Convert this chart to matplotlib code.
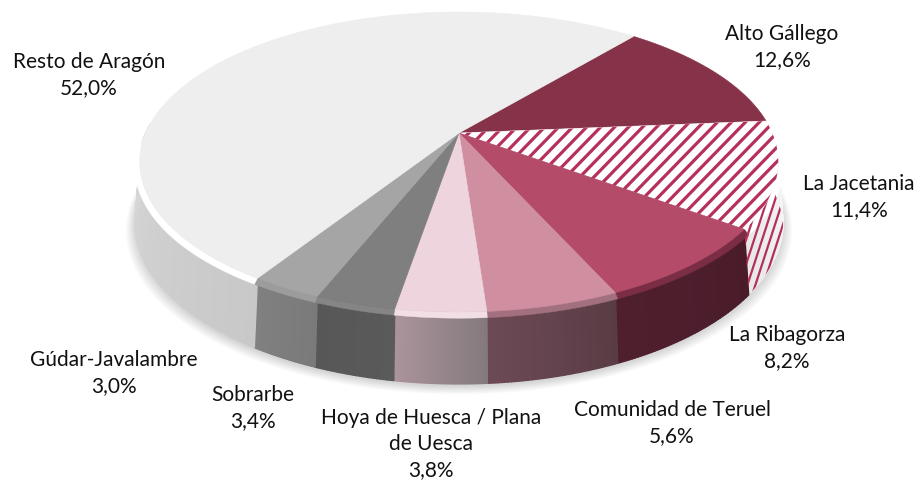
import matplotlib
matplotlib.use("Agg")
import matplotlib.pyplot as plt
import numpy as np
from matplotlib.colors import to_rgb
from matplotlib.patches import Polygon

plt.rcParams['font.family'] = ['Lato', 'DejaVu Sans']

# data, clockwise from the start angle
names = ["Alto Gállego", "La Jacetania", "La Ribagorza", "Comunidad de Teruel",
         "Hoya de Huesca / Plana\nde Uesca", "Sobrarbe", "Gúdar-Javalambre", "Resto de Aragón"]
values = [12.6, 11.4, 8.2, 5.6, 3.8, 3.4, 3.0, 52.0]

# styles
top_colors = ["#863249", "#ffffff", "#b34b69", "#cf8fa1", "#eed4dc", "#7f7f7f", "#a5a5a5", "#eeeeee"]
rim_colors = ["#863249", "#ffffff", "#7a2d45", "#a3707f", "#f2dfe5", "#858585", "#9c9c9c", "#ffffff"]
side_start = ["#4c1c2b", "#ffffff", "#4a1c2a", "#5a3c45", "#847a7e", "#5a5a5a", "#7a7a7a", "#c8c8c8"]
side_end = ["#4c1c2b", "#e8e8e8", "#4f1f2e", "#6c4a55", "#ab939b", "#575757", "#808080", "#d8d8d8"]
label_x = [782, 859, 787, 672, 431, 253, 114, 89]
label_y = [47, 197, 348, 423, 444, 408, 373, 75]

start_angle = 39.8
hatch_color = "#b5305a"

# projection of the tilted disc
cx, cy = 459, 133
ax_x, ax_y = 318, 144.4
persp = 0.1933
thick = 58
bevel = 5
top_grow = 0.985
taper = 15


def project(t, depth=0.0, grow=1.0):
    a = np.radians(t)
    u, v = np.sin(a), np.cos(a)
    w = 1 + persp * v
    x = cx + grow * ax_x * u / w
    y = cy - ax_y * v / w + depth / w
    return x, y


def ring(t0, t1, depth=0.0, grow=1.0, n=80):
    ts = np.linspace(t0, t1, n)
    x, y = project(ts, depth, grow)
    return np.column_stack([x, y])


vis0 = 90 + np.degrees(np.arcsin(persp))
vis1 = 360 - vis0


def outer_ring(t0, t1, depth=0.0, n=80):
    # outer edge of the side wall, runs into the top face at both ends
    ts = np.linspace(t0, t1, n)
    dist = np.minimum(ts - (vis0 - taper), (vis1 + taper) - ts) / taper
    g = top_grow + (1 - top_grow) * np.clip(dist, 0, 1)
    x, y = project(ts, depth, g)
    return np.column_stack([x, y])


fig = plt.figure(figsize=(9.19, 4.83), dpi=100)
ax = fig.add_axes([0, 0, 1, 1])
ax.set_xlim(0, 919)
ax.set_ylim(483, 0)
ax.axis("off")

edges = start_angle + np.cumsum([0] + values) * 3.6

# soft shadow under the disc
for i in range(14):
    pts = ring(0, 360, thick + 2 + i * 0.5, 1.0 + i * 0.0022, 200)
    ax.add_patch(Polygon(pts, closed=True, fc="black", ec="none", alpha=0.012, zorder=1))

# side faces, thin strips for the gradient
for i in range(len(values)):
    a, b = max(edges[i], vis0 - taper), min(edges[i + 1], vis1 + taper)
    if b <= a:
        continue
    c0, c1 = np.array(to_rgb(side_start[i])), np.array(to_rgb(side_end[i]))
    steps = max(int(b - a) * 2, 2)
    ts = np.linspace(a, b, steps + 1)
    for j in range(steps):
        f = j / max(steps - 1, 1)
        col = c0 + (c1 - c0) * f
        pts = np.vstack([ring(ts[j], ts[j + 1], 0, top_grow, 3), outer_ring(ts[j + 1], ts[j], thick, 3)])
        ax.add_patch(Polygon(pts, closed=True, fc=col, ec=col, lw=1.0, zorder=2))
    # rim highlight above the wall
    pts = np.vstack([ring(a, b, 0, top_grow), outer_ring(b, a, bevel)])
    ax.add_patch(Polygon(pts, closed=True, fc=rim_colors[i], ec=rim_colors[i], lw=0.3, zorder=4))
    if i == 1:
        outline = np.vstack([ring(a, b, 0, top_grow), outer_ring(b, a, thick)])
        clip = Polygon(outline, closed=True, fc="none", ec="none", zorder=2)
        ax.add_patch(clip)
        for x0 in np.arange(640, 860, 8):
            line, = ax.plot([x0, x0 + 65], [320, 120], color=hatch_color, lw=1.6, zorder=5)
            line.set_clip_path(clip)

for i in range(len(values)):
    pts = np.vstack([[cx, cy], ring(edges[i], edges[i + 1], 0, top_grow)])
    wedge = Polygon(pts, closed=True, fc=top_colors[i], ec=top_colors[i], lw=0.4, zorder=6)
    ax.add_patch(wedge)
    if i == 1:
        for x0 in np.arange(250, 900, 14):
            line, = ax.plot([x0, x0 + 195], [300, 100], color=hatch_color, lw=2.3, zorder=7)
            line.set_clip_path(wedge)

for i in range(len(values)):
    txt = names[i] + "\n" + ("%.1f%%" % values[i]).replace(".", ",")
    ax.text(label_x[i], label_y[i], txt, ha="center", va="center", fontsize=15,
            color="#111111", linespacing=1.4, zorder=10)

fig.savefig("out.png", dpi=100)
